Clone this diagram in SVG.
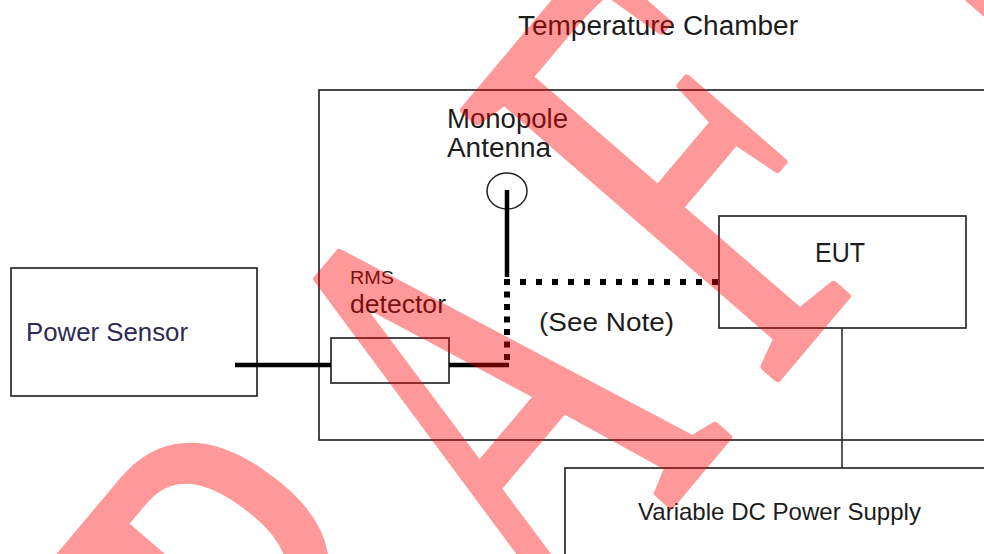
<svg xmlns="http://www.w3.org/2000/svg" width="984" height="554" viewBox="0 0 984 554">
<style>
.box{fill:none;stroke:#2a2a2a;stroke-width:1.7}
.t{font-family:"Liberation Sans",Arial,sans-serif;fill:#1c1c1c}
.thick{fill:none;stroke:#000;stroke-width:4.5}
.dot{fill:none;stroke:#000;stroke-width:6}
.thin{fill:none;stroke:#222;stroke-width:1.5}
.wm{font-family:"Liberation Serif","Times New Roman",serif;font-style:italic;fill:#ff0000;stroke:#ff0000;stroke-width:14;stroke-linejoin:round}
</style>
<rect width="984" height="554" fill="#fff"/>
<g id="temperature-chamber">
<rect class="box" x="319" y="90" width="720" height="350"/>
<text class="t" x="518" y="35" font-size="27" textLength="280" lengthAdjust="spacingAndGlyphs">Temperature Chamber</text>
</g>
<g id="power-sensor">
<rect class="box" x="11" y="268" width="246" height="128"/>
<text class="t" x="26" y="341" font-size="26" textLength="162" lengthAdjust="spacingAndGlyphs" style="fill:#2e2a50">Power Sensor</text>
</g>
<g id="rms-detector">
<rect class="box" x="331" y="338" width="118" height="45"/>
<text class="t" x="350" y="284" font-size="18" textLength="44" lengthAdjust="spacingAndGlyphs">RMS</text>
<text class="t" x="350" y="313" font-size="26" textLength="96" lengthAdjust="spacingAndGlyphs">detector</text>
</g>
<g id="monopole-antenna">
<ellipse class="thin" cx="507" cy="191" rx="20" ry="18"/>
<text class="t" x="447" y="128" font-size="27" textLength="121" lengthAdjust="spacingAndGlyphs">Monopole</text>
<text class="t" x="447" y="157" font-size="27" textLength="104" lengthAdjust="spacingAndGlyphs">Antenna</text>
</g>
<g id="eut">
<rect class="box" x="719" y="216" width="247" height="112"/>
<text class="t" x="815" y="262" font-size="27" textLength="50" lengthAdjust="spacingAndGlyphs">EUT</text>
</g>
<g id="dc-supply">
<rect class="box" x="565" y="468" width="460" height="120"/>
<text class="t" x="638" y="520" font-size="24" textLength="283" lengthAdjust="spacingAndGlyphs">Variable DC Power Supply</text>
</g>
<g id="connectors">
<path class="thick" d="M235,365 H331 M449,365 H509"/>
<path class="thick" d="M507,190 V277" stroke-width="5"/>
<path class="dot" d="M504,282 H718" stroke-dasharray="6 10"/>
<path class="dot" d="M507,279 V365" stroke-dasharray="6 6.5"/>
<path class="thin" d="M842,328 V468"/>
<text class="t" x="539" y="331" font-size="26" textLength="135" lengthAdjust="spacingAndGlyphs">(See Note)</text>
</g>
<g id="watermark" opacity="0.4">
<text class="wm" font-size="1000" x="-120 602 1333 2139 2999" y="0 -35 0 0 0" transform="matrix(0.2516 -0.2989 0.5195 0.359 239.7 1016.5)">DRAFT</text>
</g>
</svg>
